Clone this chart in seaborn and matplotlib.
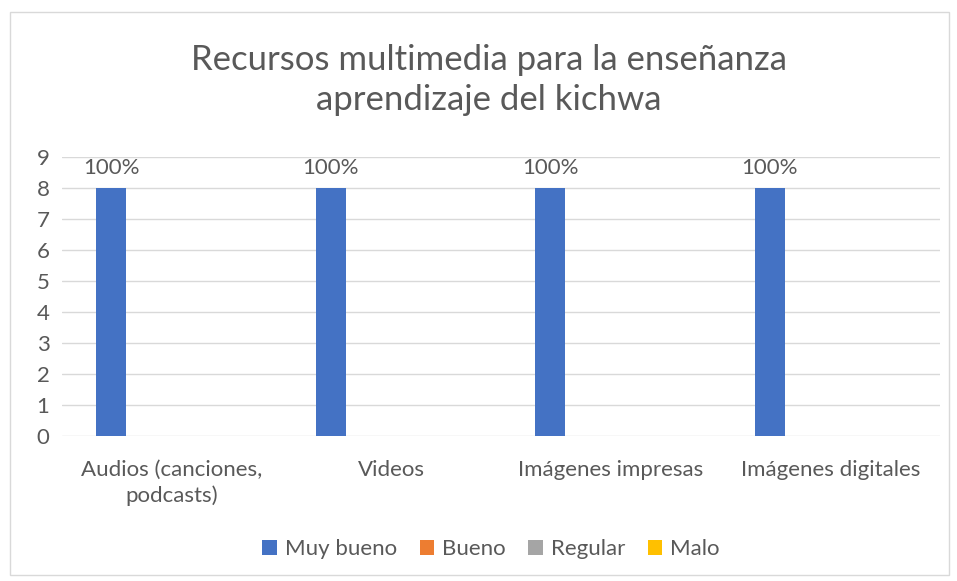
import matplotlib
matplotlib.use("Agg")
import matplotlib.pyplot as plt
import seaborn as sns
import pandas as pd
from matplotlib.patches import Rectangle, Patch

categories = ["Audios (canciones,\npodcasts)", "Videos", "Imágenes impresas", "Imágenes digitales"]
series = ["Muy bueno", "Bueno", "Regular", "Malo", " "]
muy_bueno = [8, 8, 8, 8]
bueno = [0, 0, 0, 0]
regular = [0, 0, 0, 0]
malo = [0, 0, 0, 0]
extra = [0, 0, 0, 0]
labels = ["100%", "100%", "100%", "100%"]
colors = ["#4472C4", "#ED7D31", "#A5A5A5", "#FFC000", "#FFFFFF"]

rows = []
for s, vals in zip(series, [muy_bueno, bueno, regular, malo, extra]):
    for c, v in zip(categories, vals):
        rows.append({"cat": c, "serie": s, "val": v})
df = pd.DataFrame(rows)

sns.set_theme(style="white")
plt.rcParams['font.family'] = ['Lato', 'DejaVu Sans']
txt = "#595959"

fig = plt.figure(figsize=(9.57, 5.81), dpi=100)
ax = fig.add_axes([62/957, 1-436/581, (940-62)/957, (436-157)/581])

sns.barplot(data=df, x="cat", y="val", hue="serie", order=categories, hue_order=series,
            palette=colors, width=0.69, ax=ax, legend=False, linewidth=0, saturation=1)

ax.set_ylim(0, 9)
ax.set_xlim(-0.5, 3.5)
ax.set_yticks(range(0, 10))
ax.yaxis.grid(True, color="#D9D9D9", linewidth=1)
ax.set_axisbelow(True)
for sp in ax.spines.values():
    sp.set_visible(False)
ax.set_xlabel("")
ax.set_ylabel("")
ax.tick_params(axis="y", labelsize=16, colors=txt, pad=9, length=0)
ax.tick_params(axis="x", labelsize=16, colors=txt, pad=17, length=0)
for t in ax.get_xticklabels():
    t.set_linespacing(1.35)

cont = ax.containers[0]
ax.bar_label(cont, labels=labels, padding=7, fontsize=16, color=txt)

fig.text(489/957, 1-80/581, "Recursos multimedia para la enseñanza\naprendizaje del kichwa",
         ha="center", va="center", fontsize=25, color=txt, linespacing=1.3)

handles = [Patch(facecolor=c, edgecolor="none") for c in colors[:4]]
fig.legend(handles, series[:4], loc="center", bbox_to_anchor=(491/957, 1-549/581), ncol=4,
           frameon=False, fontsize=16, labelcolor=txt, handlelength=0.65, handleheight=0.65,
           handletextpad=0.35, columnspacing=1.03)

fig.add_artist(Rectangle((10/957, 1-575/581), (949-10)/957, (575-12)/581, transform=fig.transFigure,
                         fill=False, edgecolor="#D9D9D9", linewidth=1))

fig.savefig("out.png", dpi=100)
